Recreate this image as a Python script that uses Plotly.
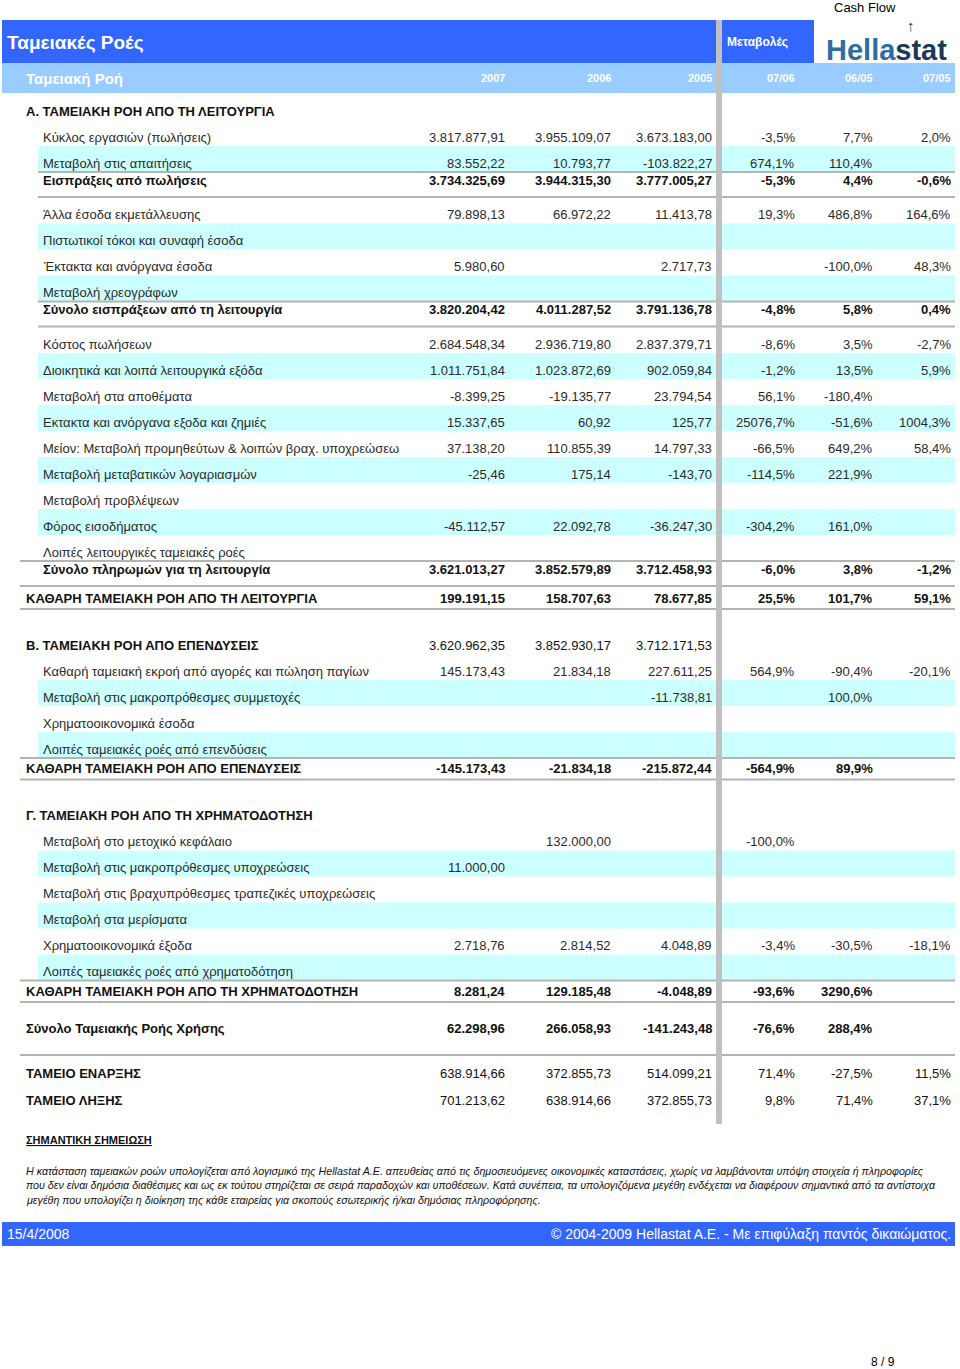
import plotly.graph_objects as go

# =================================================================================
# Hellastat cash flow statement page (Ταμειακές Ροές), amounts in EUR
# =================================================================================

years = ["2007", "2006", "2005"]
changes = ["07/06", "06/05", "07/05"]

labels = [
    "Α. ΤΑΜΕΙΑΚΗ ΡΟΗ ΑΠΟ ΤΗ ΛΕΙΤΟΥΡΓΙΑ",
    "Κύκλος εργασιών (πωλήσεις)",
    "Μεταβολή στις απαιτήσεις",
    "Εισπράξεις από πωλήσεις",
    "Άλλα έσοδα εκμετάλλευσης",
    "Πιστωτικοί τόκοι και συναφή έσοδα",
    "Έκτακτα και ανόργανα έσοδα",
    "Μεταβολή χρεογράφων",
    "Σύνολο εισπράξεων από τη λειτουργία",
    "Κόστος πωλήσεων",
    "Διοικητικά και λοιπά λειτουργικά εξόδα",
    "Μεταβολή στα αποθέματα",
    "Εκτακτα και ανόργανα εξοδα και ζημιές",
    "Μείον: Μεταβολή προμηθεύτων & λοιπών βραχ. υποχρεώσεω",
    "Μεταβολή μεταβατικών λογαριασμών",
    "Μεταβολή προβλέψεων",
    "Φόρος εισοδήματος",
    "Λοιπές λειτουργικές ταμειακές ροές",
    "Σύνολο πληρωμών για τη λειτουργία",
    "ΚΑΘΑΡΗ ΤΑΜΕΙΑΚΗ ΡΟΗ ΑΠΟ ΤΗ ΛΕΙΤΟΥΡΓΙΑ",
    "Β. ΤΑΜΕΙΑΚΗ ΡΟΗ ΑΠΟ ΕΠΕΝΔΥΣΕΙΣ",
    "Καθαρή ταμειακή εκροή από αγορές και πώληση παγίων",
    "Μεταβολή στις μακροπρόθεσμες συμμετοχές",
    "Χρηματοοικονομικά έσοδα",
    "Λοιπές ταμειακές ροές από επενδύσεις",
    "ΚΑΘΑΡΗ ΤΑΜΕΙΑΚΗ ΡΟΗ ΑΠΟ ΕΠΕΝΔΥΣΕΙΣ",
    "Γ. ΤΑΜΕΙΑΚΗ ΡΟΗ ΑΠΟ ΤΗ ΧΡΗΜΑΤΟΔΟΤΗΣΗ",
    "Μεταβολή στο μετοχικό κεφάλαιο",
    "Μεταβολή στις μακροπρόθεσμες υποχρεώσεις",
    "Μεταβολή στις βραχυπρόθεσμες τραπεζικές υποχρεώσεις",
    "Μεταβολή στα μερίσματα",
    "Χρηματοοικονομικά έξοδα",
    "Λοιπές ταμειακές ροές από χρηματοδότηση",
    "ΚΑΘΑΡΗ ΤΑΜΕΙΑΚΗ ΡΟΗ ΑΠΟ ΤΗ ΧΡΗΜΑΤΟΔΟΤΗΣΗ",
    "Σύνολο Ταμειακής Ροής Χρήσης",
    "ΤΑΜΕΙΟ ΕΝΑΡΞΗΣ",
    "ΤΑΜΕΙΟ ΛΗΞΗΣ",
]

# sec = section header, item = plain line, sub = subtotal, tot = total, cash = cash balance
kinds = [
    "sec", "item", "item", "sub", "item", "item", "item", "item", "sub",
    "item", "item", "item", "item", "item", "item", "item", "item", "item", "sub", "tot",
    "sec", "item", "item", "item", "item", "tot",
    "sec", "item", "item", "item", "item", "item", "item", "tot",
    "tot", "cash", "cash",
]

N = None
v2007 = [N, 3817877.91, 83552.22, 3734325.69, 79898.13, N, 5980.60, N, 3820204.42,
         2684548.34, 1011751.84, -8399.25, 15337.65, 37138.20, -25.46, N, -45112.57, N,
         3621013.27, 199191.15,
         3620962.35, 145173.43, N, N, N, -145173.43,
         N, N, 11000.00, N, N, 2718.76, N, 8281.24,
         62298.96, 638914.66, 701213.62]
v2006 = [N, 3955109.07, 10793.77, 3944315.30, 66972.22, N, N, N, 4011287.52,
         2936719.80, 1023872.69, -19135.77, 60.92, 110855.39, 175.14, N, 22092.78, N,
         3852579.89, 158707.63,
         3852930.17, 21834.18, N, N, N, -21834.18,
         N, 132000.00, N, N, N, 2814.52, N, 129185.48,
         266058.93, 372855.73, 638914.66]
v2005 = [N, 3673183.00, -103822.27, 3777005.27, 11413.78, N, 2717.73, N, 3791136.78,
         2837379.71, 902059.84, 23794.54, 125.77, 14797.33, -143.70, N, -36247.30, N,
         3712458.93, 78677.85,
         3712171.53, 227611.25, -11738.81, N, N, -215872.44,
         N, N, N, N, N, 4048.89, N, -4048.89,
         -141243.48, 514099.21, 372855.73]
ch0706 = [N, -3.5, 674.1, -5.3, 19.3, N, N, N, -4.8,
          -8.6, -1.2, 56.1, 25076.7, -66.5, -114.5, N, -304.2, N,
          -6.0, 25.5,
          N, 564.9, N, N, N, -564.9,
          N, -100.0, N, N, N, -3.4, N, -93.6,
          -76.6, 71.4, 9.8]
ch0605 = [N, 7.7, 110.4, 4.4, 486.8, N, -100.0, N, 5.8,
          3.5, 13.5, -180.4, -51.6, 649.2, 221.9, N, 161.0, N,
          3.8, 101.7,
          N, -90.4, 100.0, N, N, 89.9,
          N, N, N, N, N, -30.5, N, 3290.6,
          288.4, -27.5, 71.4]
ch0705 = [N, 2.0, N, -0.6, 164.6, N, 48.3, N, 0.4,
          -2.7, 5.9, N, 1004.3, 58.4, N, N, N, N,
          -1.2, 59.1,
          N, -20.1, N, N, N, N,
          N, N, N, N, N, -18.1, N, N,
          N, 11.5, 37.1]

note_lines = [
    "Η κατάσταση ταμειακών ροών υπολογίζεται από λογισμικό της Hellastat A.E. απευθείας από τις "
    "δημοσιευόμενες οικονομικές καταστάσεις, χωρίς να λαμβάνονται υπόψη στοιχεία ή πληροφορίες",
    "που δεν είναι δημόσια διαθέσιμες και ως εκ τούτου στηρίζεται σε σειρά παραδοχών και υποθέσεων. "
    "Κατά συνέπεια, τα υπολογιζόμενα μεγέθη ενδέχεται να διαφέρουν σημαντικά από τα αντίστοιχα",
    "μεγέθη που υπολογίζει η διοίκηση της κάθε εταιρείας για σκοπούς εσωτερικής ή/και δημόσιας πληροφόρησης.",
]

# ---------------------------------------------------------------------------------
# Styling
# ---------------------------------------------------------------------------------
FONT = "Liberation Sans, Arial, sans-serif"
NARROW = "Liberation Sans Narrow, Arial Narrow, Liberation Sans, sans-serif"
BLUE = "#3366FF"
LIGHT = "#99CCFF"
CYAN = "#CCFFFF"
GREY = "#B4B4B4"
TXT = "#111111"

col_right = [507, 613, 714, 797, 875, 953]

# vertical spacing between consecutive row kinds
gaps = {("sec", "item"): 26, ("item", "item"): 26, ("item", "sub"): 17,
        ("sub", "item"): 34.5, ("sub", "tot"): 29, ("tot", "sec"): 47,
        ("item", "tot"): 19.5, ("tot", "tot"): 37, ("tot", "cash"): 45,
        ("cash", "cash"): 27}
row_y = [111]
for a, b in zip(kinds[:-1], kinds[1:]):
    row_y.append(row_y[-1] + gaps[(a, b)])


def fmt_num(v):
    if v is None:
        return ""
    return f"{v:,.2f}".replace(",", "X").replace(".", ",").replace("X", ".")


def fmt_pct(v):
    if v is None:
        return ""
    return f"{v:.1f}%".replace(".", ",")


fig = go.Figure()
shapes = []
annotations = []


def rect(x0, x1, y0, y1, color):
    shapes.append(dict(type="rect", xref="x", yref="y", x0=x0, x1=x1, y0=y0, y1=y1,
                       fillcolor=color, line=dict(width=0), layer="below"))


def hline(y, x0, x1=955):
    shapes.append(dict(type="line", xref="x", yref="y", x0=x0, x1=x1, y0=y, y1=y,
                       line=dict(color=GREY, width=2), layer="below"))


def text(x, y, s, size=13, color=TXT, anchor="left", family=FONT):
    annotations.append(dict(x=x, y=y, xref="x", yref="y", text=s, showarrow=False,
                            xanchor=anchor, yanchor="middle",
                            font=dict(family=family, size=size, color=color)))


# header bars
rect(2, 814, 20, 63, BLUE)
rect(2, 955, 63, 93, LIGHT)
text(5, 42, "<b>Ταμειακές Ροές</b>", size=19, color="white")
text(725, 42, "<b>Μεταβολές</b>", size=12, color="white")
text(865, 7, "Cash Flow", size=13, color="black", anchor="center")
text(886, 50, "<b><span style='color:#2E6DA0'>Hella</span>stat</b>", size=29,
     color="#1C3A56", anchor="center")
text(911, 25, "<b>↑</b>", size=15, color="#1C3A56", anchor="center")
text(24, 78, "<b>Ταμειακή Ροή</b>", size=15, color="white")
for x, s in zip(col_right, years + changes):
    text(x, 78, f"<b>{s}</b>", size=11, color="white", anchor="right")

# cyan bands on alternate plain rows
run = 0
for k, y in zip(kinds, row_y):
    if k == "item":
        if run % 2 == 1:
            rect(38, 955, y - 17, y + 9, CYAN)
        run += 1
    else:
        run = 0

# grey rules around subtotals and totals
for i, k in enumerate(kinds):
    nxt = kinds[i + 1] if i + 1 < len(kinds) else None
    x0 = 38 if (k == "sub" and nxt == "item") else 20
    if k in ("sub", "tot") and kinds[i - 1] == "item":
        hline(row_y[i - 1] + 9, x0)
    if k == "sub":
        hline(row_y[i] + 17, x0)
    if k == "tot" and nxt in ("sec", "tot"):
        hline(row_y[i] + 11, 20)
    if k == "cash" and kinds[i - 1] != "cash":
        hline(row_y[i] - 18, 20)

# grey column separator
shapes.append(dict(type="rect", xref="x", yref="y", x0=716, x1=722, y0=20, y1=1124,
                   fillcolor="#C0C0C0", line=dict(width=0), layer="above"))

# table rows
for i, (lab, k, y) in enumerate(zip(labels, kinds, row_y)):
    bold_label = k in ("sec", "sub", "tot", "cash")
    bold_vals = k in ("sub", "tot")
    lx = 41 if k in ("item", "sub") else 24
    lcol = "#2A2A2A" if k == "item" else TXT
    text(lx, y, f"<b>{lab}</b>" if bold_label else lab, color=lcol)
    cells = [fmt_num(v2007[i]), fmt_num(v2006[i]), fmt_num(v2005[i]),
             fmt_pct(ch0706[i]), fmt_pct(ch0605[i]), fmt_pct(ch0705[i])]
    for x, c in zip(col_right, cells):
        if c:
            text(x, y, f"<b>{c}</b>" if bold_vals else c, color=lcol, anchor="right")

# important note
text(24, 1140, "<b><u>ΣΗΜΑΝΤΙΚΗ ΣΗΜΕΙΩΣΗ</u></b>", size=11, family=NARROW)
for j, line in enumerate(note_lines):
    text(24, 1171 + j * 14.5, f"<i>{line}</i>", size=10.7, family=NARROW)

# footer
rect(2, 955, 1222, 1246, BLUE)
text(5, 1234, "15/4/2008", size=14, color="white", family=NARROW)
text(953, 1234, "© 2004-2009 Hellastat A.E. - Με επιφύλαξη παντός δικαιώματος.",
     size=14, color="white", anchor="right", family=NARROW)
text(897, 1362, "8 / 9", size=12, color="black", anchor="right")

fig.update_layout(
    width=960, height=1369,
    margin=dict(l=0, r=0, t=0, b=0),
    paper_bgcolor="white", plot_bgcolor="white",
    xaxis=dict(range=[0, 960], visible=False, fixedrange=True),
    yaxis=dict(range=[1369, 0], visible=False, fixedrange=True),
    shapes=shapes, annotations=annotations, showlegend=False,
)

# page body margin removed so the figure sits at the window's top-left corner
fig.write_html("out.html", config={"displayModeBar": False},
               post_script="document.body.style.margin = '0';")
